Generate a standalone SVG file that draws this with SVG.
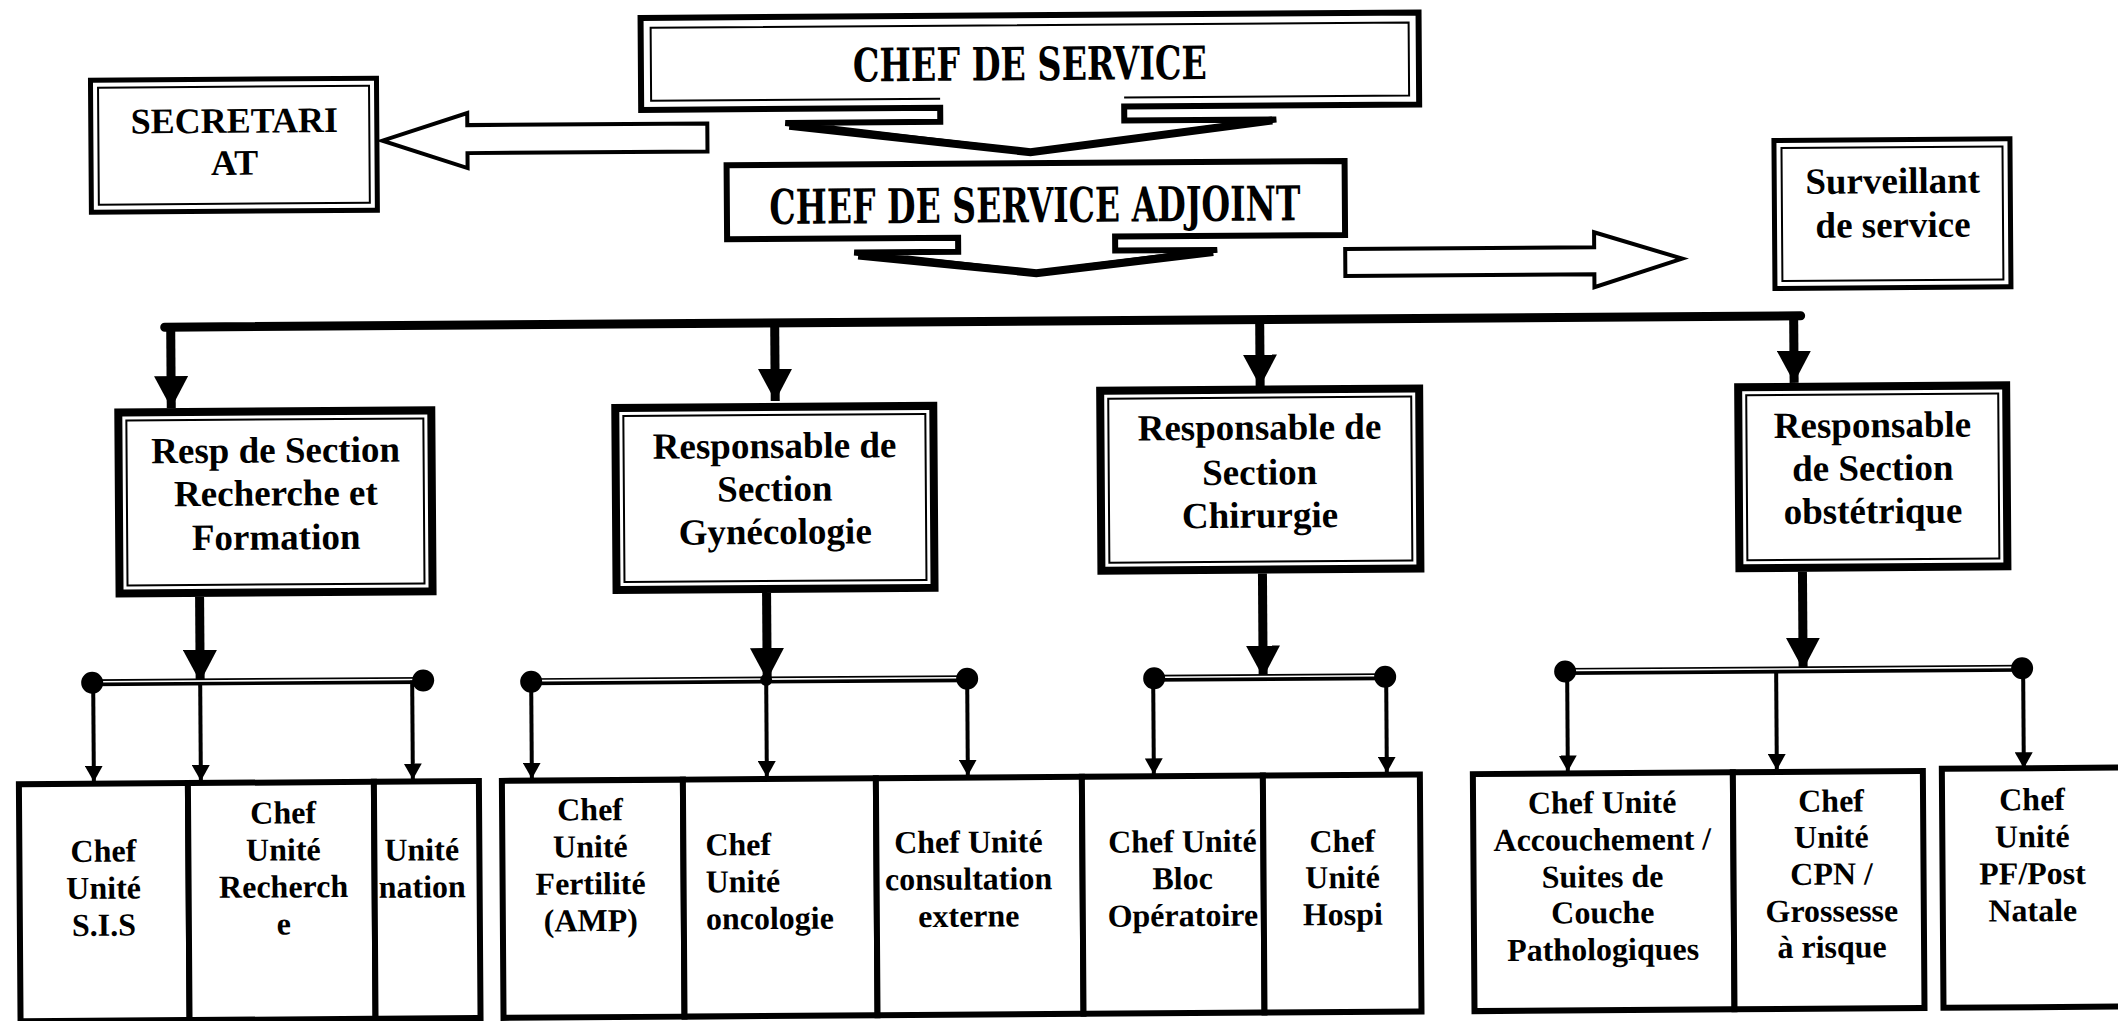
<svg xmlns="http://www.w3.org/2000/svg" width="2118" height="1021" viewBox="0 0 2118 1021">
<style>
.bg{fill:#fff}
.box{fill:#fff;stroke:#000;stroke-width:8}
.box5{fill:#fff;stroke:#000;stroke-width:5}
.inner{fill:none;stroke:#000;stroke-width:2}
.unit{fill:#fff;stroke:#000;stroke-width:6}
.callout{fill:#fff;stroke:#000;stroke-width:6;stroke-linejoin:miter}
.wing{fill:none;stroke:#000;stroke-width:8;stroke-linejoin:miter}
.blk{fill:#fff;stroke:#000;stroke-width:4;stroke-linejoin:miter}
.bus{stroke:#000;stroke-width:9;stroke-linecap:round;fill:none}
.drop{stroke:#000;stroke-width:9;fill:none}
.sdrop{stroke:#000;stroke-width:4;fill:none}
.bar{stroke:#000;stroke-width:7;fill:none}
.barw{stroke:#fff;stroke-width:1.6;fill:none}
.dot{fill:#000}
.t{font-family:"Liberation Serif","Times New Roman",serif;font-weight:bold;fill:#000;text-anchor:middle}
.ts{text-anchor:start}
.t37{font-size:37px}
.t36{font-size:36px}
.t32{font-size:32px}
.title{font-family:"DejaVu Serif","Liberation Serif",serif;font-weight:bold;fill:#000;text-anchor:middle}
</style>
<defs>
<marker id="ahBig" markerUnits="userSpaceOnUse" viewBox="0 0 32 34" refX="32" refY="17" markerWidth="32" markerHeight="34" orient="auto"><path d="M0,0 L32,17 L0,34 Z" fill="#000"/></marker>
<marker id="ahSmall" markerUnits="userSpaceOnUse" viewBox="0 0 16 18" refX="16" refY="9" markerWidth="16" markerHeight="18" orient="auto"><path d="M0,0 L16,9 L0,18 Z" fill="#000"/></marker>
</defs>
<rect class="bg" x="0" y="0" width="2118" height="1021"/>
<g transform="rotate(-0.4 1059 510)">

<g id="connectors">
  <path class="blk" d="M710,121 H470 V109 L385,136 L470,164 V149 H710 Z"/>
  <path class="blk" d="M1347,251 H1596 V236 L1684,263 L1596,291 V278 H1347 Z"/>
  <line class="bus" x1="166" y1="321" x2="1802" y2="321"/>
  <line class="drop" x1="172" y1="321" x2="172" y2="402" marker-end="url(#ahBig)"/>
  <line class="drop" x1="776" y1="321" x2="776" y2="399" marker-end="url(#ahBig)"/>
  <line class="drop" x1="1261" y1="321" x2="1261" y2="388" marker-end="url(#ahBig)"/>
  <line class="drop" x1="1795" y1="321" x2="1795" y2="388" marker-end="url(#ahBig)"/>

  <line class="drop" x1="199" y1="591" x2="199" y2="676" marker-end="url(#ahBig)"/>
  <line class="drop" x1="766" y1="591" x2="766" y2="678" marker-end="url(#ahBig)"/>
  <line class="drop" x1="1262" y1="575" x2="1262" y2="679" marker-end="url(#ahBig)"/>
  <line class="drop" x1="1802" y1="577" x2="1802" y2="675" marker-end="url(#ahBig)"/>

  <line class="bar" x1="91" y1="676" x2="422" y2="676"/>
  <line class="barw" x1="100" y1="675" x2="412" y2="675"/>
  <circle class="dot" cx="91" cy="676" r="11"/>
  <circle class="dot" cx="422" cy="676" r="11"/>
  <line class="sdrop" x1="92" y1="676" x2="92" y2="775" marker-end="url(#ahSmall)"/>
  <line class="sdrop" x1="199" y1="676" x2="199" y2="775" marker-end="url(#ahSmall)"/>
  <line class="sdrop" x1="411" y1="676" x2="411" y2="775" marker-end="url(#ahSmall)"/>

  <line class="bar" x1="530" y1="678" x2="966" y2="678"/>
  <line class="barw" x1="540" y1="677" x2="956" y2="677"/>
  <circle class="dot" cx="530" cy="678" r="11"/>
  <circle class="dot" cx="966" cy="678" r="11"/>
  <circle class="dot" cx="765" cy="678" r="6"/>
  <line class="sdrop" x1="530" y1="678" x2="530" y2="775" marker-end="url(#ahSmall)"/>
  <line class="sdrop" x1="765" y1="678" x2="765" y2="775" marker-end="url(#ahSmall)"/>
  <line class="sdrop" x1="966" y1="678" x2="966" y2="775" marker-end="url(#ahSmall)"/>

  <line class="bar" x1="1153" y1="679" x2="1384" y2="679"/>
  <line class="barw" x1="1163" y1="678" x2="1374" y2="678"/>
  <circle class="dot" cx="1153" cy="679" r="11"/>
  <circle class="dot" cx="1384" cy="679" r="11"/>
  <line class="sdrop" x1="1152" y1="679" x2="1152" y2="775" marker-end="url(#ahSmall)"/>
  <line class="sdrop" x1="1385" y1="679" x2="1385" y2="775" marker-end="url(#ahSmall)"/>

  <line class="bar" x1="1564" y1="675" x2="2021" y2="675"/>
  <line class="barw" x1="1574" y1="674" x2="2011" y2="674"/>
  <circle class="dot" cx="1564" cy="675" r="11"/>
  <circle class="dot" cx="2021" cy="675" r="11"/>
  <line class="sdrop" x1="1566" y1="675" x2="1566" y2="775" marker-end="url(#ahSmall)"/>
  <line class="sdrop" x1="1775" y1="675" x2="1775" y2="775" marker-end="url(#ahSmall)"/>
  <line class="sdrop" x1="2022" y1="675" x2="2022" y2="775" marker-end="url(#ahSmall)"/>
</g>

<g id="chef-de-service">
  <path class="callout" d="M644,15 H1422 V107 H1127 V121 H1279 L1033,152 L788,121 H943 V107 H644 Z"/>
  <path class="wing" d="M792,124 L1033,152 L1275,122"/>
  <path class="inner" d="M943,98 H654 V25 H1412 V98 H1127"/>
  <text class="title" x="1033" y="80" font-size="46" textLength="354" lengthAdjust="spacingAndGlyphs">CHEF DE SERVICE</text>
</g>

<g id="chef-de-service-adjoint">
  <path class="callout" d="M729,163 H1347 V237 H1117 V251 H1219 L1038,273 L856,251 H960 V237 H729 Z"/>
  <path class="wing" d="M860,254 L1038,273 L1215,253"/>
  <text class="title" x="1037" y="222" font-size="48" textLength="531" lengthAdjust="spacingAndGlyphs">CHEF DE SERVICE ADJOINT</text>
</g>

<g id="secretariat">
  <rect class="box5" x="93.5" y="73.5" width="286" height="132"/>
  <rect class="inner" x="101" y="81" width="271" height="117"/>
  <text class="t t36" x="237" y="127">SECRETARI</text>
  <text class="t t36" x="237" y="169">AT</text>
</g>

<g id="surveillant">
  <rect class="box5" x="1776.5" y="145.5" width="236" height="148"/>
  <rect class="inner" x="1784" y="153" width="221" height="133"/>
  <text class="t t37" x="1895" y="199">Surveillant</text>
  <text class="t t37" x="1895" y="243">de service</text>
</g>

<g id="section-recherche">
  <rect class="box" x="119" y="406" width="313" height="181"/>
  <rect class="inner" x="127" y="414" width="297" height="165"/>
  <text class="t t37" x="276" y="457">Resp de Section</text>
  <text class="t t37" x="276" y="500">Recherche et</text>
  <text class="t t37" x="276" y="544">Formation</text>
</g>

<g id="section-gynecologie">
  <rect class="box" x="616" y="405" width="318" height="182"/>
  <rect class="inner" x="624" y="413" width="302" height="166"/>
  <text class="t t37" x="775" y="456">Responsable de</text>
  <text class="t t37" x="775" y="499">Section</text>
  <text class="t t37" x="775" y="542">Gynécologie</text>
</g>

<g id="section-chirurgie">
  <rect class="box" x="1101" y="391" width="319" height="180"/>
  <rect class="inner" x="1109" y="399" width="303" height="164"/>
  <text class="t t37" x="1260" y="441">Responsable de</text>
  <text class="t t37" x="1260" y="486">Section</text>
  <text class="t t37" x="1260" y="529">Chirurgie</text>
</g>

<g id="section-obstetrique">
  <rect class="box" x="1739" y="392" width="268" height="181"/>
  <rect class="inner" x="1747" y="400" width="252" height="165"/>
  <text class="t t37" x="1873" y="443">Responsable</text>
  <text class="t t37" x="1873" y="486">de Section</text>
  <text class="t t37" x="1873" y="529">obstétrique</text>
</g>

<g id="unite-sis">
  <rect class="unit" x="17" y="777" width="169" height="237"/>
  <text class="t t32" x="101" y="855">Chef</text>
  <text class="t t32" x="101" y="892">Unité</text>
  <text class="t t32" x="101" y="929">S.I.S</text>
</g>
<g id="unite-recherche">
  <rect class="unit" x="186" y="777" width="186" height="237"/>
  <text class="t t32" x="281" y="818">Chef</text>
  <text class="t t32" x="281" y="855">Unité</text>
  <text class="t t32" x="281" y="892">Recherch</text>
  <text class="t t32" x="281" y="929">e</text>
</g>
<g id="unite-formation">
  <rect class="unit" x="372" y="777" width="105" height="237"/>
  <text class="t ts t32" x="382" y="856">Unité</text>
  <text class="t ts t32" x="376" y="893">nation</text>
</g>

<g id="unite-fertilite">
  <rect class="unit" x="500" y="777" width="181" height="237"/>
  <text class="t t32" x="588" y="817">Chef</text>
  <text class="t t32" x="588" y="854">Unité</text>
  <text class="t t32" x="588" y="891">Fertilité</text>
  <text class="t t32" x="588" y="928">(AMP)</text>
</g>
<g id="unite-oncologie">
  <rect class="unit" x="681" y="777" width="193" height="237"/>
  <text class="t ts t32" x="703" y="853">Chef</text>
  <text class="t ts t32" x="703" y="890">Unité</text>
  <text class="t ts t32" x="703" y="927">oncologie</text>
</g>
<g id="unite-consultation">
  <rect class="unit" x="874" y="777" width="206" height="237"/>
  <text class="t t32" x="966" y="852">Chef Unité</text>
  <text class="t t32" x="966" y="889">consultation</text>
  <text class="t t32" x="966" y="926">externe</text>
</g>
<g id="unite-bloc">
  <rect class="unit" x="1080" y="777" width="181" height="237"/>
  <text class="t t32" x="1180" y="853">Chef Unité</text>
  <text class="t t32" x="1180" y="890">Bloc</text>
  <text class="t t32" x="1180" y="927">Opératoire</text>
</g>
<g id="unite-hospi">
  <rect class="unit" x="1261" y="777" width="157" height="237"/>
  <text class="t t32" x="1340" y="854">Chef</text>
  <text class="t t32" x="1340" y="890">Unité</text>
  <text class="t t32" x="1340" y="927">Hospi</text>
</g>

<g id="unite-accouchement">
  <rect class="unit" x="1471" y="777" width="260" height="237"/>
  <text class="t t32" x="1600" y="817">Chef Unité</text>
  <text class="t t32" x="1600" y="854">Accouchement /</text>
  <text class="t t32" x="1600" y="891">Suites de</text>
  <text class="t t32" x="1600" y="927">Couche</text>
  <text class="t t32" x="1600" y="964">Pathologiques</text>
</g>
<g id="unite-cpn">
  <rect class="unit" x="1731" y="777" width="190" height="237"/>
  <text class="t t32" x="1829" y="817">Chef</text>
  <text class="t t32" x="1829" y="853">Unité</text>
  <text class="t t32" x="1829" y="890">CPN /</text>
  <text class="t t32" x="1829" y="927">Grossesse</text>
  <text class="t t32" x="1829" y="963">à risque</text>
</g>
<g id="unite-pf">
  <rect class="unit" x="1940" y="775" width="200" height="239"/>
  <text class="t t32" x="2030" y="817">Chef</text>
  <text class="t t32" x="2030" y="854">Unité</text>
  <text class="t t32" x="2030" y="891">PF/Post</text>
  <text class="t t32" x="2030" y="928">Natale</text>
</g>

</g>
</svg>
